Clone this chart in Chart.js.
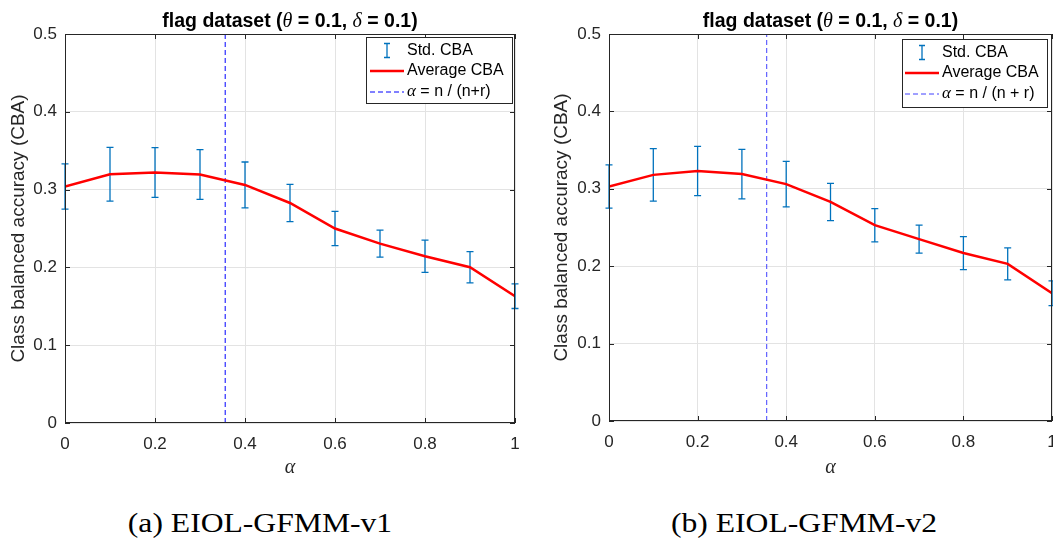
<!DOCTYPE html>
<html>
<head>
<meta charset="utf-8">
<script src="https://cdn.jsdelivr.net/npm/chart.js@4.4.1/dist/chart.umd.min.js"></script>
<style>
body { margin:0; background:#fff; width:1053px; height:540px; overflow:hidden; position:relative; }
canvas { position:absolute; top:0; }
#c1 { left:0; }
#c2 { left:540px; }
.cap { position:absolute; top:507px; transform:translateX(-50%) scaleX(1.15); white-space:nowrap;
       font-family:"Liberation Serif", "Times New Roman", serif; font-size:27.5px; color:#000; }
</style>
</head>
<body>
<canvas id="c1" width="530" height="480"></canvas>
<canvas id="c2" width="513" height="480"></canvas>
<div class="cap" style="left:260px">(a) EIOL-GFMM-v1</div>
<div class="cap" style="left:804px">(b) EIOL-GFMM-v2</div>
<script>
// data
const alphas = [0, 0.1, 0.2, 0.3, 0.4, 0.5, 0.6, 0.7, 0.8, 0.9, 1]
const meanV1 = [0.304, 0.3197, 0.322, 0.3195, 0.306, 0.2828, 0.250, 0.2306, 0.2143, 0.2002, 0.163]
const stdV1  = [0.029, 0.0345, 0.032, 0.032, 0.0295, 0.024, 0.022, 0.0174, 0.0207, 0.020, 0.0158]
const meanV2 = [0.303, 0.318, 0.323, 0.319, 0.306, 0.283, 0.253, 0.235, 0.217, 0.203, 0.165]
const stdV2  = [0.028, 0.034, 0.0318, 0.032, 0.0294, 0.024, 0.0215, 0.018, 0.0213, 0.0206, 0.016]
const alphaStar = 0.356
const xTicks = [0, 0.2, 0.4, 0.6, 0.8, 1]
const yTicks = [0, 0.1, 0.2, 0.3, 0.4, 0.5]

const SANS = '"Liberation Sans", Arial, Helvetica, sans-serif'
const SERIF = '"Liberation Serif", "Times New Roman", serif'
const AX = '#262626'

const matlabLook = {
    id: 'matlabLook',
    beforeDatasetsDraw(chart, args, o) {
        // error bars, under the average line
        const { ctx, scales: { x, y } } = chart
        ctx.save()
        ctx.strokeStyle = '#0072BD'
        ctx.lineWidth = 1.3
        alphas.forEach((a, i) => {
            const px = x.getPixelForValue(a)
            const t = y.getPixelForValue(o.mean[i] + o.std[i])
            const b = y.getPixelForValue(o.mean[i] - o.std[i])
            ctx.beginPath()
            ctx.moveTo(px, t); ctx.lineTo(px, b)
            ctx.moveTo(px - 3.5, t); ctx.lineTo(px + 3.5, t)
            ctx.moveTo(px - 3.5, b); ctx.lineTo(px + 3.5, b)
            ctx.stroke()
        })
        ctx.restore()
    },
    afterDraw(chart, args, o) {
        const { ctx, chartArea: ca, scales: { x, y } } = chart
        ctx.save()
        // box + inward ticks
        ctx.strokeStyle = AX
        ctx.lineWidth = 1
        ctx.strokeRect(ca.left + 0.5, ca.top + 0.5, ca.right - ca.left - 1, ca.bottom - ca.top - 1)
        ctx.beginPath()
        xTicks.forEach(v => {
            const px = Math.round(x.getPixelForValue(v)) + 0.5
            ctx.moveTo(px, ca.bottom); ctx.lineTo(px, ca.bottom - 5)
            ctx.moveTo(px, ca.top); ctx.lineTo(px, ca.top + 5)
        })
        yTicks.forEach(v => {
            const py = Math.round(y.getPixelForValue(v)) + 0.5
            ctx.moveTo(ca.left, py); ctx.lineTo(ca.left + 5, py)
            ctx.moveTo(ca.right, py); ctx.lineTo(ca.right - 5, py)
        })
        ctx.stroke()

        // title
        const parts = [
            ['flag dataset (', 'bold 19.5px ' + SANS],
            ['\u03b8', 'italic 20px ' + SERIF],
            [' = 0.1, ', 'bold 19.5px ' + SANS],
            ['\u03b4', 'italic 20px ' + SERIF],
            [' = 0.1)', 'bold 19.5px ' + SANS]
        ]
        let tw = 0
        parts.forEach(p => { ctx.font = p[1]; tw += ctx.measureText(p[0]).width })
        let tx = (ca.left + ca.right) / 2 - tw / 2
        ctx.fillStyle = '#000'
        ctx.textBaseline = 'alphabetic'
        parts.forEach(p => { ctx.font = p[1]; ctx.fillText(p[0], tx, 26.5); tx += ctx.measureText(p[0]).width })

        // legend
        const L = o.legend
        const x0 = ca.right - L.dx - L.w, y0 = ca.top + L.dy
        ctx.fillStyle = '#fff'
        ctx.fillRect(x0, y0, L.w, L.h)
        ctx.strokeStyle = AX
        ctx.strokeRect(x0 + 0.5, y0 + 0.5, L.w, L.h)
        const sx0 = x0 + L.sx, sx1 = sx0 + 34, tx0 = sx1 + 3
        const rows = [y0 + 13.5, y0 + 34, y0 + 54.5]
        // std icon
        const cx = (sx0 + sx1) / 2
        ctx.strokeStyle = '#0072BD'; ctx.lineWidth = 1.3
        ctx.beginPath()
        ctx.moveTo(cx, rows[0] - 7); ctx.lineTo(cx, rows[0] + 7)
        ctx.moveTo(cx - 3, rows[0] - 7); ctx.lineTo(cx + 3, rows[0] - 7)
        ctx.moveTo(cx - 3, rows[0] + 7); ctx.lineTo(cx + 3, rows[0] + 7)
        ctx.stroke()
        // average icon
        ctx.strokeStyle = '#ff0000'; ctx.lineWidth = 2.5
        ctx.beginPath(); ctx.moveTo(sx0, rows[1]); ctx.lineTo(sx1, rows[1]); ctx.stroke()
        // alpha icon
        ctx.strokeStyle = o.dashColor; ctx.lineWidth = 1; ctx.setLineDash([5, 3])
        ctx.beginPath(); ctx.moveTo(sx0, rows[2] + 0.5); ctx.lineTo(sx1, rows[2] + 0.5); ctx.stroke()
        ctx.setLineDash([])
        ctx.fillStyle = '#000'
        ctx.textBaseline = 'middle'
        ctx.font = '16px ' + SANS
        ctx.fillText('Std. CBA', tx0, rows[0])
        ctx.fillText('Average CBA', tx0, rows[1])
        ctx.font = 'italic 17px ' + SERIF
        ctx.fillText('\u03b1', tx0, rows[2])
        const aw = ctx.measureText('\u03b1').width
        ctx.font = '16px ' + SANS
        ctx.fillText(o.alphaText, tx0 + aw, rows[2])
        ctx.restore()
    }
}

function makeChart(id, mean, std, yAxisW, xAxisH, yTitlePad, dashColor, alphaText, legend) {
    return new Chart(document.getElementById(id), {
        type: 'line',
        data: {
            datasets: [
                {
                    label: 'Average CBA',
                    data: alphas.map((a, i) => ({ x: a, y: mean[i] })),
                    borderColor: '#ff0000',
                    borderWidth: 2.5,
                    pointRadius: 0,
                    tension: 0
                },
                {
                    label: 'alpha',
                    data: [{ x: alphaStar, y: 0 }, { x: alphaStar, y: 0.5 }],
                    borderColor: dashColor,
                    borderWidth: 1,
                    borderDash: [5, 3],
                    pointRadius: 0
                }
            ]
        },
        options: {
            responsive: false,
            animation: false,
            devicePixelRatio: 1,
            layout: { padding: { left: 0, top: 34, right: legend.padRight, bottom: 0 } },
            plugins: {
                legend: { display: false },
                tooltip: { enabled: false },
                matlabLook: { mean, std, dashColor, alphaText, legend }
            },
            scales: {
                x: {
                    type: 'linear', min: 0, max: 1,
                    afterBuildTicks: s => { s.ticks = xTicks.map(v => ({ value: v })) },
                    afterFit: s => { s.height = xAxisH; s.paddingLeft = 0; s.paddingRight = 0 },
                    grid: { color: '#e3e3e3', drawTicks: false },
                    border: { display: false },
                    ticks: {
                        color: AX, padding: 11, maxRotation: 0,
                        font: { family: SANS, size: 17 },
                        callback: v => String(+v.toFixed(1))
                    },
                    title: {
                        display: true, text: '\u03b1', color: AX,
                        font: { family: SERIF, size: 20, style: 'italic' },
                        padding: { top: 0, bottom: 0 }
                    }
                },
                y: {
                    min: 0, max: 0.5,
                    afterBuildTicks: s => { s.ticks = yTicks.map(v => ({ value: v })) },
                    afterFit: s => { s.width = yAxisW; s.paddingTop = 0; s.paddingBottom = 0 },
                    grid: { color: '#e3e3e3', drawTicks: false },
                    border: { display: false },
                    ticks: {
                        color: AX, padding: 8,
                        font: { family: SANS, size: 17 },
                        callback: v => String(+v.toFixed(1))
                    },
                    title: {
                        display: true, text: 'Class balanced accuracy (CBA)', color: AX,
                        font: { family: SANS, size: 19 },
                        padding: { top: yTitlePad, bottom: 0 }
                    }
                }
            }
        },
        plugins: [matlabLook]
    })
}

makeChart('c1', meanV1, stdV1, 65, 57, 7.3, '#0000ff', ' = n / (n+r)',
    { w: 146, h: 66, dx: 3, dy: 3, sx: 4, padRight: 15 })
makeChart('c2', meanV2, stdV2, 69, 59, 10.3, '#4040ff', ' = n / (n + r)',
    { w: 145, h: 68, dx: 5, dy: 5, sx: 3, padRight: 1 })
</script>
</body>
</html>
